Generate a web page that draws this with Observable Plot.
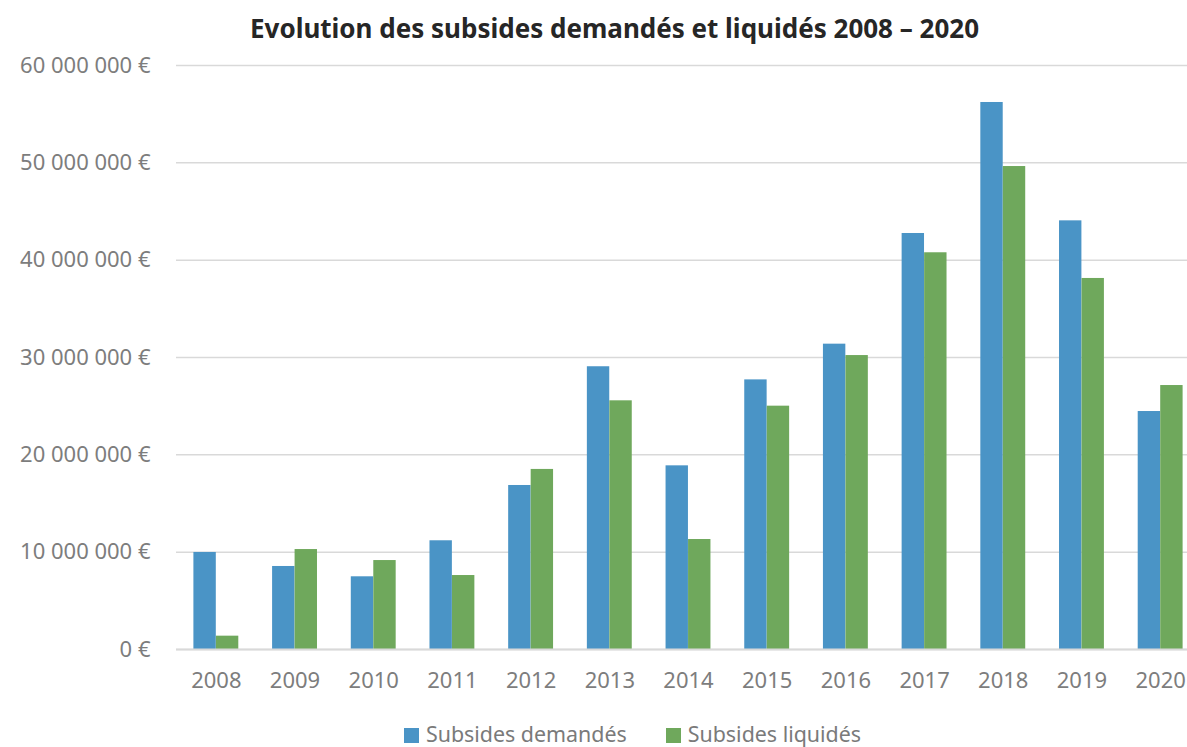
<!DOCTYPE html>
<html><head><meta charset="utf-8">
<script src="https://cdn.jsdelivr.net/npm/d3@7"></script>
<script src="https://cdn.jsdelivr.net/npm/@observablehq/plot@0.6"></script>
<style>
body{margin:0;background:#fff;font-family:"Noto Sans",sans-serif;width:1187px;height:747px;overflow:hidden;}
#title{height:36px;line-height:36px;margin-top:10px;text-align:center;font-weight:bold;font-size:26px;color:#262626;padding-left:42px;}
#legend{display:flex;justify-content:center;gap:39px;font-size:21.4px;color:#7a7a7a;margin-top:21px;padding-left:78px;line-height:22px;}
#legend span.sw{display:inline-block;width:15px;height:15px;margin-right:7px;vertical-align:-1px;}
#chart svg{overflow:visible;}
</style></head>
<body>
<div id="title">Evolution des subsides demandés et liquidés 2008 – 2020</div>
<div id="chart"></div>
<div id="legend"></div>
<script>
const years = ["2008","2009","2010","2011","2012","2013","2014","2015","2016","2017","2018","2019","2020"];
const demandes = [9970000, 8530000, 7470000, 11170000, 16850000, 29050000, 18870000, 27700000, 31370000, 42740000, 56200000, 44040000, 24450000];
const liquides = [1370000, 10270000, 9140000, 7600000, 18500000, 25550000, 11300000, 25000000, 30200000, 40760000, 49620000, 38120000, 27120000];
const seriesNames = ["Subsides demandés", "Subsides liquidés"];
const colors = ["#4a94c6", "#6fa85c"];
const yTicks = [0, 10000000, 20000000, 30000000, 40000000, 50000000, 60000000];

const rows = years.map((y, i) => ({year: y, d: demandes[i], l: liquides[i]}));
const fmt = d3.formatLocale({thousands: " ", grouping: [3], decimal: ","}).format(",");

const chart = Plot.plot({
  width: 1187,
  height: 656,
  marginLeft: 176,
  marginRight: 0,
  marginTop: 19,
  marginBottom: 53,
  style: {fontFamily: "Noto Sans, sans-serif", fontSize: "22px", color: "#7d7d7d", background: "#fff"},
  x: {domain: years, range: [176.5, 1199.5], padding: 0, round: false, label: null, tickSize: 0, tickPadding: 23},
  y: {domain: [0, 60000000], label: null, ticks: yTicks, tickSize: 0, tickPadding: 26, tickFormat: d => fmt(d) + " €"},
  marks: [
    Plot.ruleY(yTicks, {stroke: "#d9d9d9", strokeWidth: 1.5}),
    Plot.barY(rows, {x: "year", y: "d", fill: colors[0], insetLeft: 16.9, insetRight: 39.4}),
    Plot.barY(rows, {x: "year", y: "l", fill: colors[1], insetLeft: 39.4, insetRight: 16.9}),
    Plot.ruleY([0], {stroke: "#d9d9d9", strokeWidth: 2})
  ]
});
document.getElementById("chart").appendChild(chart);

const lg = document.getElementById("legend");
seriesNames.forEach((n, i) => {
  const d = document.createElement("div");
  d.innerHTML = `<span class="sw" style="background:${colors[i]}"></span>${n}`;
  lg.appendChild(d);
});
</script>
</body></html>
